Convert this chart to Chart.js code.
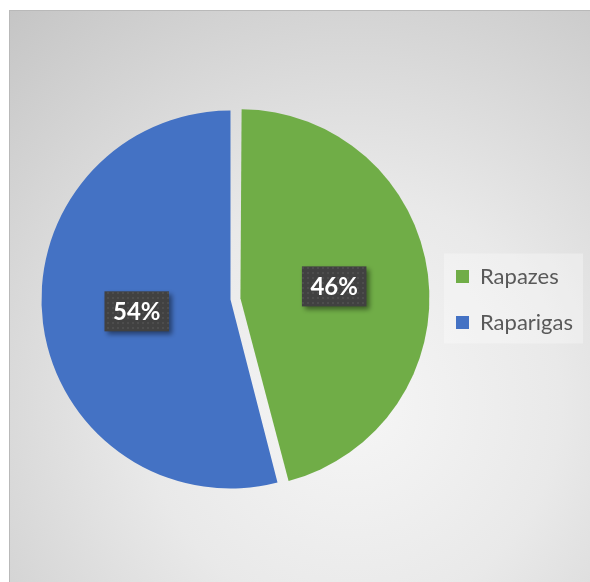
<!DOCTYPE html>
<html>
<head>
<meta charset="utf-8">
<script src="https://cdn.jsdelivr.net/npm/chart.js@4/dist/chart.umd.min.js"></script>
<style>
  html, body { margin: 0; padding: 0; background: #ffffff; }
  #wrap { position: relative; width: 590px; height: 582px; overflow: hidden; }
  #frame {
    position: absolute; left: 9px; top: 10px; width: 590px; height: 580px;
    border-top: 1px solid #b9b9b9; border-left: 1px solid #b9b9b9;
    background: radial-gradient(circle farthest-corner at 58% 68%, #f6f6f6 0%, #e9e9e9 40%, #c5c5c5 100%);
  }
  canvas { position: absolute; left: 0; top: 0; }
</style>
</head>
<body>
<div id="wrap">
  <div id="frame"></div>
  <canvas id="c" width="590" height="582"></canvas>
</div>
<script>
const categories = ['Rapazes', 'Raparigas'];
const values = [46, 54];
const colors = ['#70ad47', '#4472c4'];
const sliceOffsets = [40, 0];

function radiusFix(arc) {
  const off = (arc.options.offset || 0) / 4;
  const circ = arc.endAngle - arc.startAngle;
  return off * (1 - Math.sin(Math.min(Math.PI, circ)));
}

// keep exploded slice at the same radius as the others
const keepRadius = {
  id: 'keepRadius',
  afterDatasetsUpdate(chart) {
    chart.getDatasetMeta(0).data.forEach(arc => {
      arc.outerRadius -= radiusFix(arc);
    });
  }
};

const legendBg = {
  id: 'legendBg',
  beforeDraw(chart) {
    const lg = chart.legend;
    if (!lg || !lg.legendHitBoxes || !lg.legendHitBoxes.length) return;
    const hb = lg.legendHitBoxes;
    let l = Infinity, t = Infinity, r = -Infinity, b = -Infinity;
    hb.forEach(h => { l = Math.min(l, h.left); t = Math.min(t, h.top); r = Math.max(r, h.left + h.width); b = Math.max(b, h.top + h.height); });
    const ctx = chart.ctx;
    ctx.save();
    ctx.fillStyle = 'rgba(255,255,255,0.3)';
    ctx.fillRect(l - 12, t - 12, (r - l) + 22, (b - t) + 22);
    ctx.restore();
  }
};

function makePattern(ctx) {
  const p = document.createElement('canvas');
  p.width = 5; p.height = 5;
  const pc = p.getContext('2d');
  pc.fillStyle = '#414141'; pc.fillRect(0, 0, 5, 5);
  pc.fillStyle = '#4d4d4d'; pc.fillRect(2, 2, 2, 2);
  return ctx.createPattern(p, 'repeat');
}

const pctLabels = {
  id: 'pctLabels',
  afterDatasetsDraw(chart) {
    const ctx = chart.ctx;
    const meta = chart.getDatasetMeta(0);
    const data = chart.data.datasets[0].data;
    const total = data.reduce((a, b) => a + b, 0);
    const pattern = makePattern(ctx);
    meta.data.forEach((arc, i) => {
      const half = (arc.startAngle + arc.endAngle) / 2;
      const off = (arc.options.offset || 0) / 4;
      const eff = arc.outerRadius + radiusFix(arc);
      const d = eff / 2 + off;
      const x = arc.x + Math.cos(half) * d;
      const y = arc.y + Math.sin(half) * d;
      const text = Math.round(data[i] / total * 100) + '%';
      ctx.save();
      ctx.font = 'bold 24px Lato, "Open Sans", sans-serif';
      const w = ctx.measureText(text).width + 17;
      const h = 40;
      ctx.shadowColor = 'rgba(0,0,0,0.45)';
      ctx.shadowBlur = 5;
      ctx.shadowOffsetX = 3;
      ctx.shadowOffsetY = 3;
      ctx.fillStyle = pattern;
      ctx.fillRect(x - w / 2, y - h / 2, w, h);
      ctx.shadowColor = 'transparent';
      ctx.fillStyle = '#ffffff';
      ctx.textAlign = 'center';
      ctx.textBaseline = 'middle';
      ctx.fillText(text, x, y + 1);
      ctx.restore();
    });
  }
};

new Chart(document.getElementById('c'), {
  type: 'pie',
  data: {
    labels: categories,
    datasets: [{
      data: values,
      backgroundColor: colors,
      borderWidth: 0,
      offset: sliceOffsets,
      clip: false
    }]
  },
  options: {
    responsive: false,
    animation: false,
    radius: 189,
    layout: { padding: { left: 29, right: 7, top: 17, bottom: 0 } },
    plugins: {
      tooltip: { enabled: false },
      legend: {
        position: 'right',
        labels: {
          boxWidth: 13,
          boxHeight: 13,
          padding: 24,
          color: '#595959',
          font: { family: 'Lato, "Open Sans", sans-serif', size: 22 }
        }
      }
    }
  },
  plugins: [keepRadius, legendBg, pctLabels]
});
</script>
</body>
</html>
